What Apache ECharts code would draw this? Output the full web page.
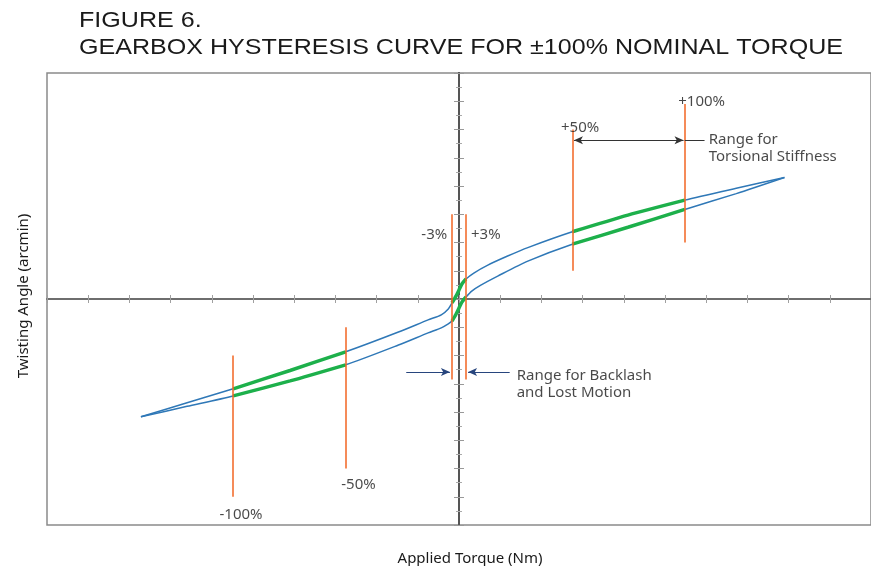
<!DOCTYPE html>
<html>
<head>
<meta charset="utf-8">
<script src="https://cdn.jsdelivr.net/npm/echarts@6/dist/echarts.min.js"></script>
<style>
html, body { margin: 0; padding: 0; background: #fff; }
#chart { width: 871px; height: 566px; }
</style>
</head>
<body>
<div id="chart"></div>
<script>
// hysteresis loop (x: torque units, y: arcmin units)
const upperX = [-7.72, -6.6, -5.48, -4.1, -2.75, -1.47, -0.75, -0.43, -0.26, -0.17, -0.07, 0, 0.07, 0.17, 0.36, 0.7, 1.18, 1.67, 2.75, 4.1, 5.48, 6.73, 7.9]
const upperY = [-4.17, -3.67, -3.18, -2.53, -1.87, -1.17, -0.74, -0.56, -0.35, -0.14, 0.11, 0.32, 0.53, 0.71, 0.92, 1.2, 1.52, 1.82, 2.38, 2.97, 3.5, 3.92, 4.3]
const lowerX = [-7.72, -6.6, -5.48, -4.1, -2.75, -1.47, -0.75, -0.43, -0.26, -0.17, -0.07, 0, 0.07, 0.17, 0.31, 0.53, 0.94, 1.67, 2.75, 4.1, 5.48, 6.73, 7.9]
const lowerY = [-4.17, -3.8, -3.43, -2.9, -2.33, -1.63, -1.2, -1.02, -0.88, -0.78, -0.53, -0.32, -0.11, 0.07, 0.28, 0.49, 0.81, 1.34, 1.94, 2.54, 3.17, 3.73, 4.3]

// orange torque markers
const markerNames = ['-100%', '-50%', '-3%', '+3%', '+50%', '+100%']
const markerX = [-5.48, -2.75, -0.17, 0.17, 2.75, 5.48]
const markerTop = [-2, -1, 3, 3, 6, 6.9]
const markerBottom = [-7, -6, -2.85, -2.85, 1, 2]
const markerLabelX = [-5.29, -2.44, -0.6, 0.65, 2.94, 5.89]
const markerLabelY = [-7.63, -6.57, 2.26, 2.26, 6.08, 6.98]

// ranges drawn green on both branches
const greenRanges = [[-5.48, -2.75], [-0.17, 0.17], [2.75, 5.48]]

const notes = ['Range for Backlash\nand Lost Motion', 'Range for\nTorsional Stiffness']
const noteX = [1.4, 6.06]
const noteY = [-3.02, 5.35]

const titleLines = ['FIGURE 6.', 'GEARBOX HYSTERESIS CURVE FOR ±100% NOMINAL TORQUE']

const BLUE = '#2f78b7'
const GREEN = '#1db04b'
const ORANGE = '#f26522'
const NAVY = '#27457d'
const FONT = 'Noto Sans'

const chart = echarts.init(document.getElementById('chart'))

function pairs(xs, ys) {
  return xs.map((x, i) => [x, ys[i]])
}

function greenSeries(xs, ys) {
  return greenRanges.map(([a, b]) => ({
    type: 'line',
    data: pairs(xs, ys).filter((p) => p[0] >= a - 1e-6 && p[0] <= b + 1e-6),
    smooth: 0.25,
    showSymbol: false,
    lineStyle: { color: GREEN, width: 3.5 },
    z: 4,
  }))
}

const axisOff = { axisLabel: { show: false }, splitLine: { show: false } }

// two axes per direction, both on zero, so the ticks cross the line
function xAxisAt(pos) {
  return {
    type: 'value', min: -10, max: 10, interval: 1, position: pos,
    axisLine: { onZero: true, onZeroAxisIndex: 0, lineStyle: { color: '#666', width: 1.5 } },
    axisTick: { length: 4, lineStyle: { color: '#a0a0a0' } },
    ...axisOff,
  }
}

function yAxisAt(pos) {
  return {
    type: 'value', min: -8, max: 8, interval: 1, position: pos,
    axisLine: { onZero: true, onZeroAxisIndex: 0, lineStyle: { color: '#555', width: 2 } },
    axisTick: { length: 5, lineStyle: { color: '#999' } },
    minorTick: { show: true, splitNumber: 2, length: 3, lineStyle: { color: '#aaa' } },
    ...axisOff,
  }
}

const option = {
  animation: false,
  backgroundColor: '#fff',
  grid: { left: 47, top: 73, right: -4, bottom: 41, show: true, borderColor: '#8a8a8a', borderWidth: 1.5 },
  xAxis: [xAxisAt('bottom'), xAxisAt('top')],
  yAxis: [yAxisAt('left'), yAxisAt('right')],
  graphic: [
    ...titleLines.map((t, i) => ({
      type: 'text', x: 79, y: 21 + i * 27, scaleX: 1.14,
      style: { text: t, verticalAlign: 'middle', fontFamily: 'Liberation Sans', fontSize: 22, fill: '#1a1a1a' },
    })),
    {
      type: 'text', x: 24, y: 296, rotation: Math.PI / 2,
      style: { text: 'Twisting Angle (arcmin)', align: 'center', verticalAlign: 'middle', fontFamily: FONT, fontSize: 15, fill: '#1a1a1a' },
    },
    {
      type: 'text', x: 470, y: 559,
      style: { text: 'Applied Torque (Nm)', align: 'center', verticalAlign: 'middle', fontFamily: FONT, fontSize: 15, fill: '#1a1a1a' },
    },
  ],
  series: [
    {
      type: 'line',
      data: pairs(upperX, upperY),
      smooth: 0.25,
      showSymbol: false,
      lineStyle: { color: BLUE, width: 1.5 },
      z: 3,
    },
    {
      type: 'line',
      data: pairs(lowerX, lowerY),
      smooth: 0.25,
      showSymbol: false,
      lineStyle: { color: BLUE, width: 1.5 },
      z: 3,
    },
    ...greenSeries(upperX, upperY),
    ...greenSeries(lowerX, lowerY),
    {
      // markers and range arrows
      type: 'line',
      data: [],
      z: 5,
      markLine: {
        silent: true,
        animation: false,
        label: { show: false },
        data: [
          ...markerX.map((x, i) => [
            { coord: [x, markerTop[i]], symbol: 'none', lineStyle: { color: ORANGE, width: 1.5, type: 'solid' } },
            { coord: [x, markerBottom[i]], symbol: 'none' },
          ]),
          [
            { coord: [markerX[4] + 0.04, 5.62], symbol: 'arrow', symbolSize: [6, 9], lineStyle: { color: '#333', width: 1, type: 'solid' } },
            { coord: [markerX[5] - 0.03, 5.62], symbol: 'arrow', symbolSize: [6, 9] },
          ],
          [
            { coord: [markerX[5], 5.62], symbol: 'none', lineStyle: { color: '#333', width: 1, type: 'solid' } },
            { coord: [5.96, 5.62], symbol: 'none' },
          ],
          [
            { coord: [-1.28, -2.58], symbol: 'none', lineStyle: { color: NAVY, width: 1, type: 'solid' } },
            { coord: [markerX[2] - 0.05, -2.58], symbol: 'arrow', symbolSize: [6, 9] },
          ],
          [
            { coord: [1.23, -2.58], symbol: 'none', lineStyle: { color: NAVY, width: 1, type: 'solid' } },
            { coord: [markerX[3] + 0.05, -2.58], symbol: 'arrow', symbolSize: [6, 9] },
          ],
        ],
      },
    },
    {
      type: 'scatter',
      symbolSize: 0,
      z: 6,
      data: markerNames.map((n, i) => ({ name: n, value: [markerLabelX[i], markerLabelY[i]] })),
      label: { show: true, position: 'inside', formatter: '{b}', fontFamily: FONT, fontSize: 15, color: '#1a1a1a' },
    },
    {
      type: 'scatter',
      symbolSize: 0,
      z: 6,
      data: notes.map((n, i) => ({ name: n, value: [noteX[i], noteY[i]] })),
      label: { show: true, position: 'right', distance: 0, formatter: '{b}', fontFamily: FONT, fontSize: 15, lineHeight: 17, color: '#1a1a1a' },
    },
  ],
}

chart.setOption(option)
window.addEventListener('resize', () => chart.resize())
</script>
</body>
</html>
